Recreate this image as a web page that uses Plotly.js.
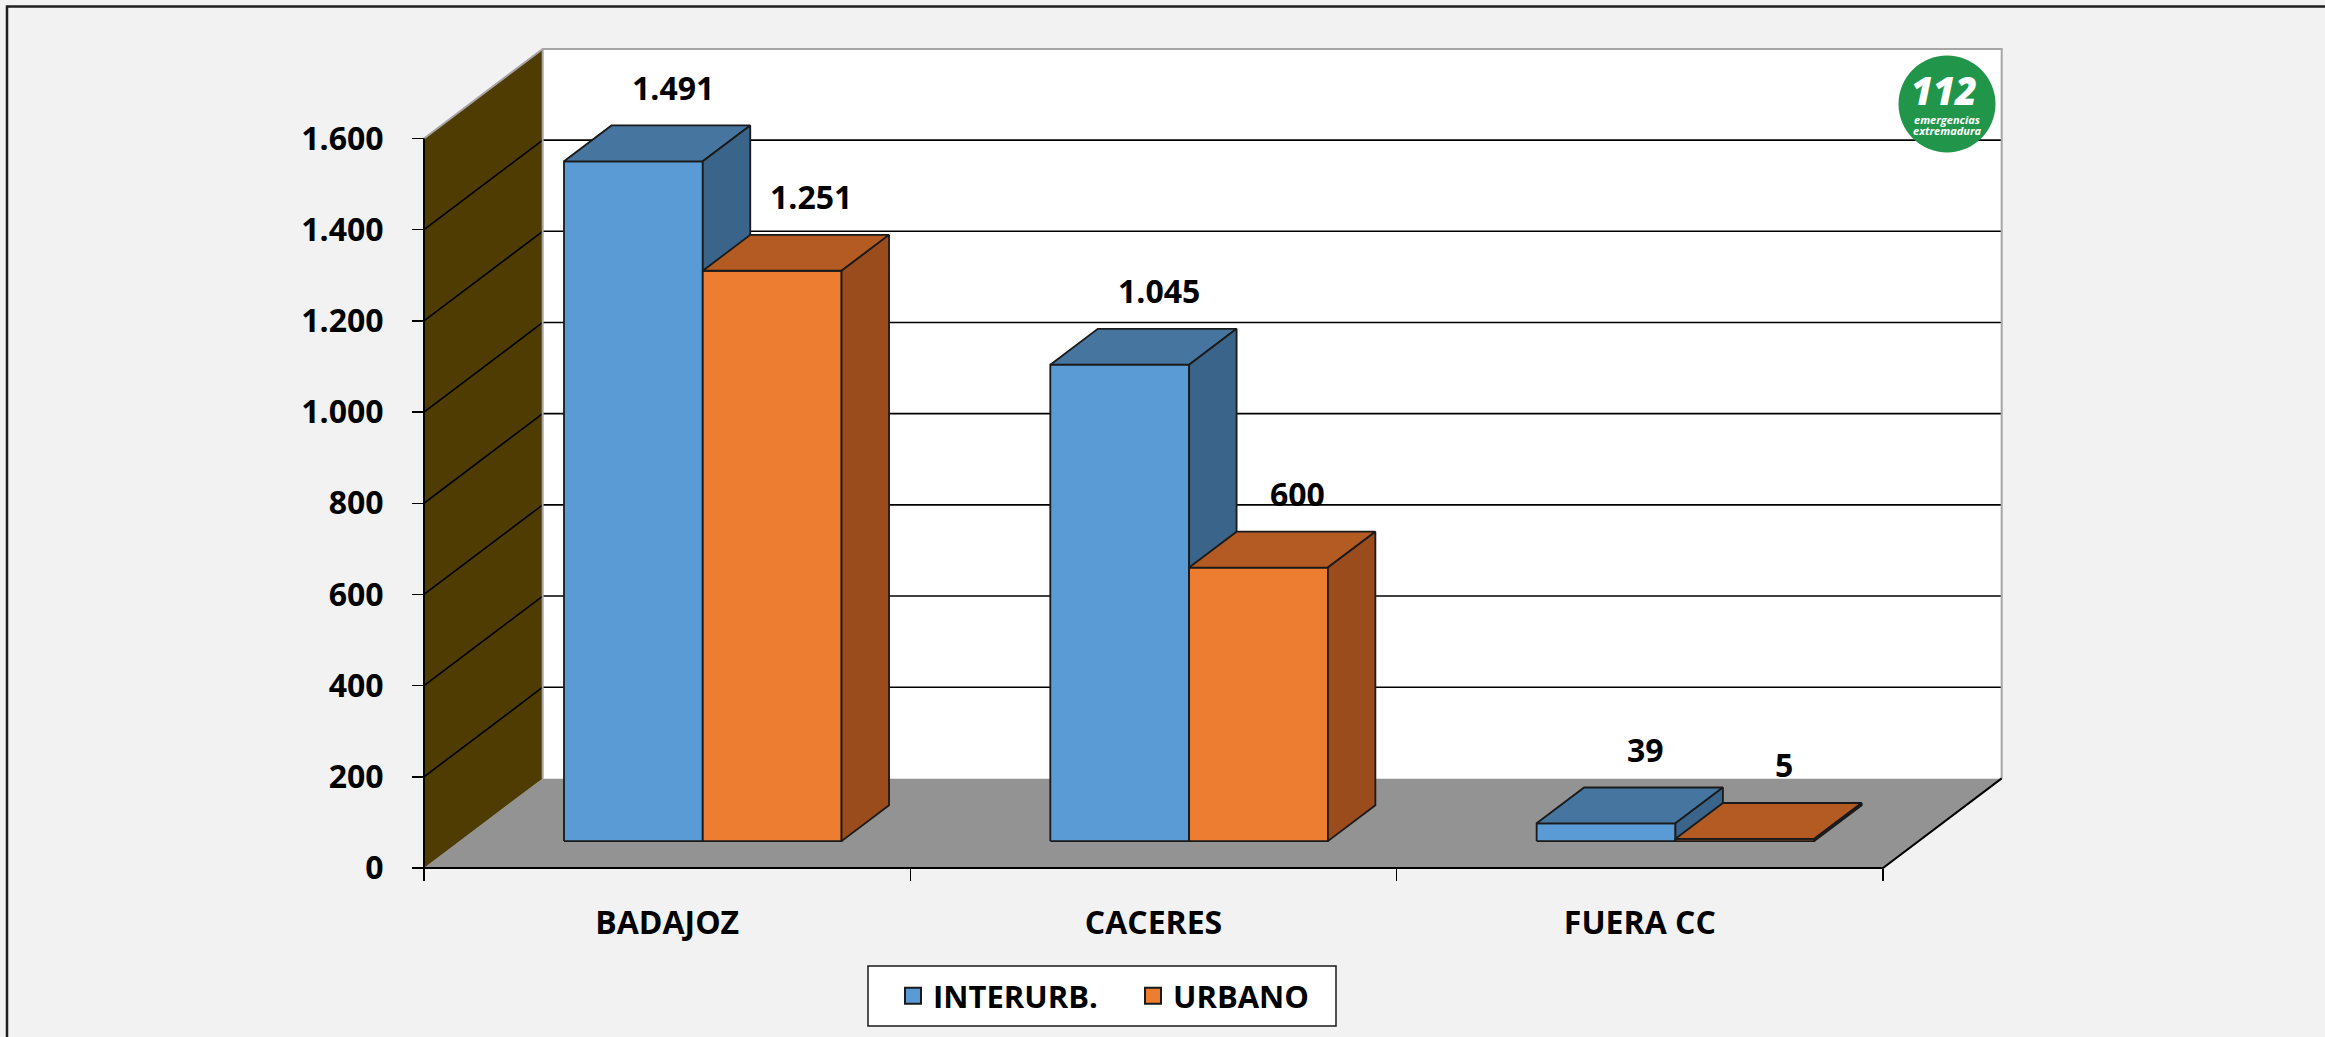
<!DOCTYPE html>
<html><head><meta charset="utf-8">
<script src="https://cdn.plot.ly/plotly-3.0.1.min.js"></script>
<style>html,body{margin:0;padding:0;background:#f2f2f2;overflow:hidden}</style>
</head><body><div id="chart" style="width:2325px;height:1037px"></div>
<script>
// ---- data ----
const categories = ['BADAJOZ', 'CACERES', 'FUERA CC'];
const seriesNames = ['INTERURB.', 'URBANO'];
const interurb = [1491, 1045, 39];
const urbano = [1251, 600, 5];
const yTicks = [0, 200, 400, 600, 800, 1000, 1200, 1400, 1600];
const gridVals = [200, 400, 600, 800, 1000, 1200, 1400];

// ---- geometry (oblique 3D projection in data units) ----
const W = 2325, H = 1037;
const X0PX = 424, CATPX = 486.33, Y0PX = 868, VPX = 0.45594;
const DX = 118.7 / CATPX;   // full depth offset, category units
const DY = 89.6 / VPX;      // full depth offset, value units
const VMAX = 1600;
const NCAT = categories.length;
const D0 = 0.3, D1 = 0.7;
const BAR_START = 0.2146, BAR_W = 0.2854;

function P(x, v, d) { return [x + d * DX, v + d * DY]; }
function polys(list) {
  const xs = [], ys = [];
  list.forEach((pts, k) => {
    if (k) { xs.push(null); ys.push(null); }
    pts.concat([pts[0]]).forEach(p => { xs.push(p[0]); ys.push(p[1]); });
  });
  return {x: xs, y: ys};
}
function segs(list) {
  const xs = [], ys = [];
  list.forEach((s, k) => {
    if (k) { xs.push(null); ys.push(null); }
    s.forEach(p => { xs.push(p[0]); ys.push(p[1]); });
  });
  return {x: xs, y: ys};
}
function fmt(v) { return String(v).replace(/\B(?=(\d{3})+(?!\d))/g, '.'); }

const traces = [];
function fillTrace(pl, fill, lineColor, lineW) {
  const t = polys(pl);
  traces.push({type: 'scatter', mode: 'lines', x: t.x, y: t.y, fill: 'toself', fillcolor: fill,
    line: {color: lineColor || fill, width: lineW === undefined ? 0 : lineW}, showlegend: false, hoverinfo: 'skip'});
}
function lineTrace(sl, color, w, xaxis) {
  const t = segs(sl);
  const tr = {type: 'scatter', mode: 'lines', x: t.x, y: t.y, line: {color: color, width: w}, showlegend: false, hoverinfo: 'skip'};
  if (xaxis) tr.xaxis = xaxis;
  traces.push(tr);
}

// floor
fillTrace([[P(0, 0, 0), P(NCAT, 0, 0), P(NCAT, 0, 1), P(0, 0, 1)]], '#939393');
// side wall
fillTrace([[P(0, 0, 0), P(0, 0, 1), P(0, VMAX, 1), P(0, VMAX, 0)]], '#4f3c02');
// back wall
fillTrace([[P(0, 0, 1), P(NCAT, 0, 1), P(NCAT, VMAX, 1), P(0, VMAX, 1)]], '#ffffff');
// gridlines
lineTrace(gridVals.map(v => [P(0, v, 1), P(NCAT, v, 1)]).concat(gridVals.map(v => [P(0, v, 0), P(0, v, 1)])), '#000000', 1.6);
// gray wall borders
lineTrace([[P(0, VMAX, 0), P(0, VMAX, 1), P(NCAT, VMAX, 1), P(NCAT, 0, 1)], [P(0, 0, 1), P(0, VMAX, 1)]], '#a6a6a6', 2);
// axis lines
lineTrace([[P(0, VMAX, 0), P(0, 0, 0), P(NCAT, 0, 0), P(NCAT, 0, 1)]], '#000000', 2, 'x2');

// bars
const series = [interurb, urbano];
const colors = [
  {front: '#5b9bd5', top: '#46759f', side: '#3a6489'},
  {front: '#ed7d31', top: '#b35b22', side: '#9a4c1d'}
];
const annotations = [];
series.forEach((vals, s) => {
  const fronts = [], tops = [], sides = [];
  vals.forEach((v, i) => {
    const x0 = i + BAR_START + s * BAR_W, x1 = x0 + BAR_W;
    fronts.push([P(x0, 0, D0), P(x1, 0, D0), P(x1, v, D0), P(x0, v, D0)]);
    tops.push([P(x0, v, D0), P(x1, v, D0), P(x1, v, D1), P(x0, v, D1)]);
    sides.push([P(x1, 0, D0), P(x1, 0, D1), P(x1, v, D1), P(x1, v, D0)]);
    annotations.push({x: (x0 + x1) / 2 + 0.63 * DX, y: v + 0.5 * DY, xref: 'x', yref: 'y', text: fmt(v),
      xanchor: 'center', yanchor: 'middle',
      showarrow: false, yshift: 56, font: {size: 32, color: '#000', weight: 700}});
  });
  fillTrace(fronts, colors[s].front, '#1a1a1a', 1.8);
  fillTrace(tops, colors[s].top, '#1a1a1a', 1.8);
  fillTrace(sides, colors[s].side, '#1a1a1a', 1.8);
});
// legend entries
seriesNames.forEach((n, s) => {
  traces.push({type: 'scatter', mode: 'markers', x: [null], y: [null], name: n, showlegend: true,
    marker: {symbol: 'square', size: 22, color: colors[s].front, line: {color: '#1a1a1a', width: 2}}});
});

// logo
const LX = 1947, LY = 104, LR = 48.5;
annotations.push(
  {xref: 'paper', yref: 'paper', x: 1944 / W, y: 1 - 90 / H, xanchor: 'center', yanchor: 'middle', text: '112', showarrow: false,
   font: {family: 'Open Sans, sans-serif', size: 38, color: '#fff', weight: 800, style: 'italic'}},
  {xref: 'paper', yref: 'paper', x: 1947 / W, y: 1 - 119 / H, xanchor: 'center', yanchor: 'middle', text: 'emergencias', showarrow: false,
   font: {family: 'Open Sans, sans-serif', size: 11, color: '#fff', weight: 700, style: 'italic'}},
  {xref: 'paper', yref: 'paper', x: 1947 / W, y: 1 - 130 / H, xanchor: 'center', yanchor: 'middle', text: 'extremadura', showarrow: false,
   font: {family: 'Open Sans, sans-serif', size: 11, color: '#fff', weight: 700, style: 'italic'}}
);

const xr = [-X0PX / CATPX, (W - X0PX) / CATPX];
const layout = {
  width: W, height: H, margin: {l: 0, r: 0, t: 0, b: 0, pad: 0},
  paper_bgcolor: '#f2f2f2', plot_bgcolor: 'rgba(0,0,0,0)',
  separators: ',.', hovermode: false, showlegend: true,
  font: {family: 'Open Sans, sans-serif', size: 32, color: '#000', weight: 700},
  xaxis: {range: xr, fixedrange: true, anchor: 'free', position: (H - Y0PX) / H, tickmode: 'array',
    tickvals: categories.map((c, i) => i + 0.5), ticktext: categories, ticks: '', showline: false,
    showgrid: false, zeroline: false, ticklabelstandoff: 33, tickfont: {size: 32, weight: 700, color: '#000'}},
  xaxis2: {range: xr, fixedrange: true, overlaying: 'x', anchor: 'free', position: (H - Y0PX) / H,
    tickmode: 'array', tickvals: categories.map((c, i) => i).concat([NCAT]), ticks: 'outside', ticklen: 12,
    tickwidth: 1.5, tickcolor: '#000', showticklabels: false, showgrid: false, zeroline: false, showline: false},
  yaxis: {range: [-(H - Y0PX) / VPX, Y0PX / VPX], fixedrange: true, anchor: 'free', position: X0PX / W,
    tickmode: 'array', tickvals: yTicks, tickformat: ',d', ticks: 'outside', ticklen: 12, tickwidth: 1.5,
    tickcolor: '#000', ticklabelstandoff: 22, showgrid: false, zeroline: false, showline: false,
    tickfont: {size: 32, weight: 700, color: '#000'}},
  legend: {orientation: 'h', x: 893 / W, xanchor: 'left', y: (H - 996) / H, yanchor: 'middle',
    bgcolor: 'rgba(0,0,0,0)', borderwidth: 0, itemsizing: 'trace',
    entrywidth: 195, entrywidthmode: 'pixels',
    font: {size: 31, weight: 700, color: '#000'}},
  shapes: [
    {type: 'rect', xref: 'paper', yref: 'paper', x0: 7 / W, x1: 1.05, y0: 1 - 6.5 / H, y1: -0.05,
     line: {color: '#1f1f1f', width: 2.5}, fillcolor: 'rgba(0,0,0,0)'},
    {type: 'circle', xref: 'paper', yref: 'paper', x0: (LX - LR) / W, x1: (LX + LR) / W,
     y0: 1 - (LY + LR) / H, y1: 1 - (LY - LR) / H, fillcolor: '#21964a', line: {width: 0}},
    {type: 'rect', xref: 'paper', yref: 'paper', x0: 868 / W, x1: 1336 / W, y0: 1 - 1026 / H, y1: 1 - 966 / H,
     fillcolor: '#ffffff', line: {color: '#1a1a1a', width: 1.5}}
  ],
  annotations: annotations
};
Plotly.newPlot('chart', traces, layout, {displayModeBar: false, staticPlot: true});
</script></body></html>
